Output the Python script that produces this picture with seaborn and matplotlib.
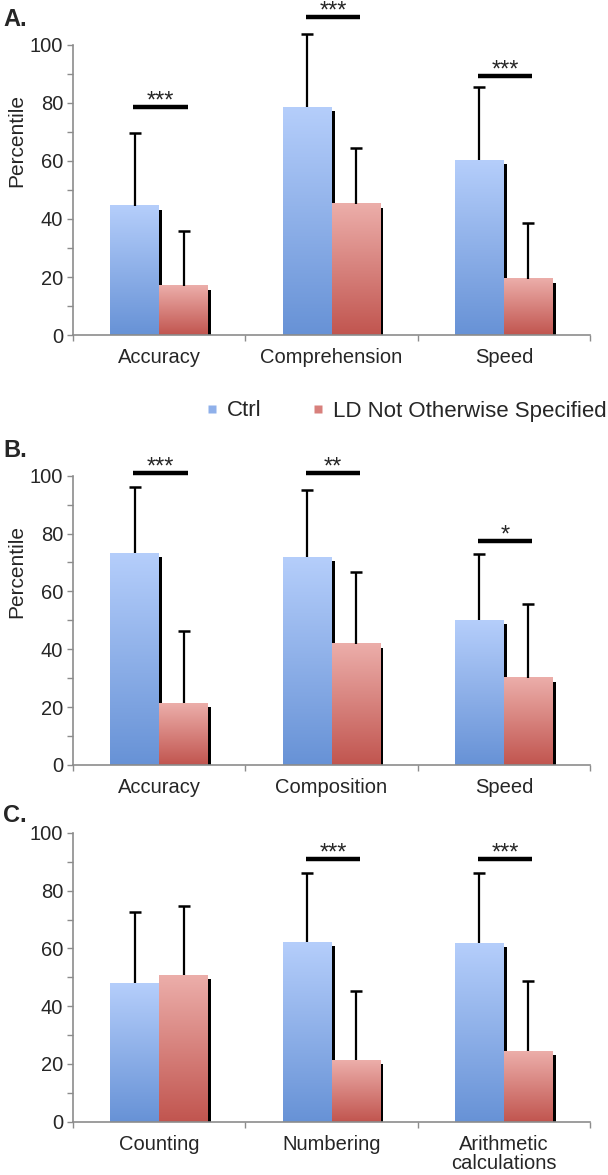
import numpy as np
import pandas as pd
import matplotlib
matplotlib.use("Agg")
import matplotlib.pyplot as plt
import matplotlib.patheffects as pe
from matplotlib.colors import LinearSegmentedColormap
from matplotlib.lines import Line2D
import seaborn as sns

# ---------------- data ----------------
groups = ["Ctrl", "LD Not Otherwise Specified"]

cats_a = ["Accuracy", "Comprehension", "Speed"]
ctrl_a = [44.5, 78.5, 60.2]
ctrl_sd_a = [25.3, 25.2, 25.2]
ld_a = [17.0, 45.3, 19.4]
ld_sd_a = [19.0, 19.3, 19.3]
sig_a = ["***", "***", "***"]
sig_y_a = [78.7, 109.5, 89.4]

cats_b = ["Accuracy", "Composition", "Speed"]
ctrl_b = [73.2, 71.8, 50.0]
ctrl_sd_b = [22.9, 23.2, 22.9]
ld_b = [21.4, 41.9, 30.1]
ld_sd_b = [25.0, 24.9, 25.4]
sig_b = ["***", "**", "*"]
sig_y_b = [101.0, 101.0, 77.4]

cats_c = ["Counting", "Numbering", "Arithmetic\ncalculations"]
ctrl_c = [48.1, 62.2, 61.9]
ctrl_sd_c = [24.5, 24.0, 24.3]
ld_c = [50.8, 21.4, 24.4]
ld_sd_c = [24.0, 24.0, 24.3]
sig_c = ["", "***", "***"]
sig_y_c = [None, 91.1, 91.1]

panel_labels = ["A.", "B.", "C."]
yticks = [0, 20, 40, 60, 80, 100]

# ---------------- style ----------------
sns.set_style("white")
plt.rcParams["font.family"] = ["Liberation Sans", "DejaVu Sans"]

blue_top, blue_bot = "#b5cefb", "#6792d6"
red_top, red_bot = "#ecaeaa", "#c1554f"
grad_cmaps = [LinearSegmentedColormap.from_list("b", [blue_bot, blue_top]),
              LinearSegmentedColormap.from_list("r", [red_bot, red_top])]
palette = {"Ctrl": "#8fb0ea", "LD Not Otherwise Specified": "#d8807c"}
axis_grey = "#8c8c8c"

fig = plt.figure(figsize=(6.08, 11.75), dpi=100)
W, H = 608, 1175
left, right = 73, 590
panels = [
    (cats_a, ctrl_a, ctrl_sd_a, ld_a, ld_sd_a, sig_a, sig_y_a, 45, 335, True),
    (cats_b, ctrl_b, ctrl_sd_b, ld_b, ld_sd_b, sig_b, sig_y_b, 475.7, 765, True),
    (cats_c, ctrl_c, ctrl_sd_c, ld_c, ld_sd_c, sig_c, sig_y_c, 833, 1121.7, False),
]
label_tops = [8, 439, 804]

for i, (cats, cm, cs, lm, ls, sig, sigy, top, bot, ylab) in enumerate(panels):
    ax = fig.add_axes([left / W, 1 - bot / H, (right - left) / W, (bot - top) / H])
    df = pd.DataFrame({
        "cat": list(cats) * 2,
        "group": [groups[0]] * 3 + [groups[1]] * 3,
        "value": list(cm) + list(lm),
        "sd": list(cs) + list(ls),
    })
    sns.barplot(data=df, x="cat", y="value", hue="group", hue_order=groups,
                order=cats, palette=palette, width=0.566, errorbar=None,
                legend=False, ax=ax, linewidth=0)

    bar_containers = list(ax.containers)
    # gradients, shadows and one-sided error bars
    for gi, cont in enumerate(bar_containers):
        sds = df[df["group"] == groups[gi]]["sd"].values
        xs, ys = [], []
        for patch in cont.patches:
            patch.set_path_effects([
                pe.SimplePatchShadow(offset=(2.3, -2.8), shadow_rgbFace="black", alpha=1.0),
                pe.Normal()])
            x0, y0 = patch.get_x(), patch.get_y()
            w, h = patch.get_width(), patch.get_height()
            grad = np.linspace(0, 1, 256).reshape(-1, 1)
            ax.imshow(grad, extent=[x0, x0 + w, y0, y0 + h], origin="lower",
                      cmap=grad_cmaps[gi], aspect="auto", zorder=patch.get_zorder() + 0.5,
                      interpolation="bilinear")
            xs.append(x0 + w / 2)
            ys.append(y0 + h)
        eb = ax.errorbar(xs, ys, yerr=[np.zeros(len(sds)), sds], fmt="none",
                         ecolor="black", elinewidth=1.6, capsize=4, capthick=1.8,
                         zorder=5)
        caps = list(eb.lines[1])
        if caps:
            caps[0].set_visible(False)  # hide lower cap (one-sided bars)
        for art in caps + list(eb.lines[2]):
            art.set_clip_on(False)

    # significance bars
    for k, (s, yv) in enumerate(zip(sig, sigy)):
        if not s:
            continue
        ax.plot([k - 0.15, k + 0.165], [yv, yv], color="black", lw=3.2,
                solid_capstyle="butt", clip_on=False, zorder=6)
        ax.text(k + 0.008, yv - 0.2, s, ha="center", va="baseline",
                fontsize=17, clip_on=False, zorder=6)

    ax.set_xlim(-0.5, 2.5)
    ax.set_ylim(0, 100)
    ax.set_yticks(yticks)
    ax.set_yticks([10, 30, 50, 70, 90], minor=True)
    ax.set_xticks([-0.5, 0.5, 1.5, 2.5], minor=True)
    ax.tick_params(axis="x", which="major", length=0, pad=9.5, labelsize=14.5)
    ax.tick_params(axis="x", which="minor", length=4, width=1, color=axis_grey,
                   direction="out", bottom=True)
    ax.tick_params(axis="y", which="both", length=4, width=1, color=axis_grey,
                   direction="out", left=True, labelsize=14.5, pad=3)
    for t in ax.get_xticklabels():
        t.set_linespacing(1.0)
    ax.set_xlabel("")
    if ylab:
        ax.set_ylabel("Percentile", fontsize=15)
        ax.yaxis.set_label_coords(-0.09, 0.67)
    else:
        ax.set_ylabel("")
    for sp in ["top", "right"]:
        ax.spines[sp].set_visible(False)
    for sp in ["left", "bottom"]:
        ax.spines[sp].set_color(axis_grey)
        ax.spines[sp].set_linewidth(1.2)

    fig.text(3 / W, 1 - label_tops[i] / H, panel_labels[i], fontsize=17,
             fontweight="bold", ha="left", va="top")

handles = [Line2D([0], [0], marker="s", linestyle="none", markersize=5.5,
                  markerfacecolor=palette[g], markeredgecolor="none") for g in groups]
fig.legend(handles, groups, loc="center right", bbox_to_anchor=(607 / W, 1 - 411 / H),
           ncol=2, frameon=False, fontsize=16, handlelength=0.55,
           handletextpad=0.4, columnspacing=2.3, borderpad=0.0, borderaxespad=0.0)

fig.savefig("out.png", dpi=100)
